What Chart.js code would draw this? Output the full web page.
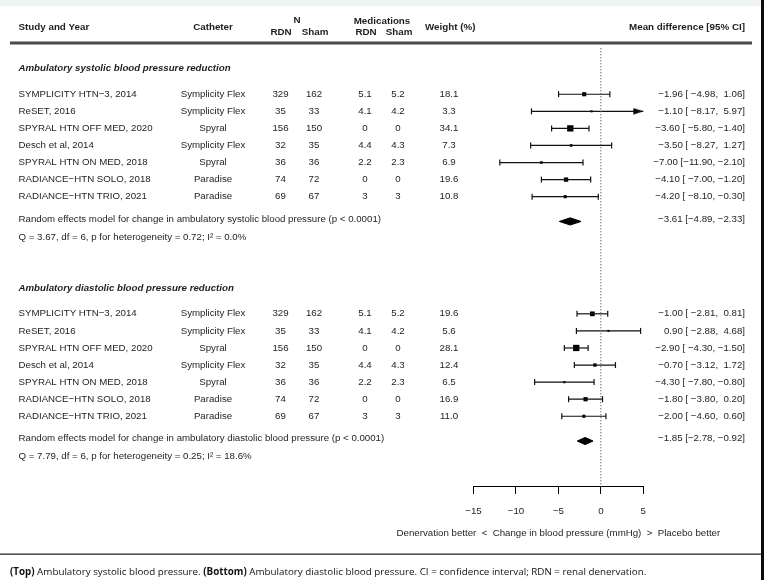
<!DOCTYPE html>
<html><head><meta charset="utf-8">
<script src="https://cdn.jsdelivr.net/npm/chart.js@4.4.1/dist/chart.umd.min.js"></script>
<style>html,body{margin:0;padding:0;background:#fff;}canvas{display:block;}</style>
</head><body>
<canvas id="c" width="764" height="580"></canvas>
<script>
// ---------- data ----------
const studies = ['SYMPLICITY HTN\u22123, 2014','ReSET, 2016','SPYRAL HTN OFF MED, 2020','Desch et al, 2014','SPYRAL HTN ON MED, 2018','RADIANCE\u2212HTN SOLO, 2018','RADIANCE\u2212HTN TRIO, 2021'];
const catheters = ['Symplicity Flex','Symplicity Flex','Spyral','Symplicity Flex','Spyral','Paradise','Paradise'];
const nRDN = [329,35,156,32,36,74,69];
const nSham = [162,33,150,35,36,72,67];
const medRDN = ['5.1','4.1','0','4.4','2.2','0','3'];
const medSham = ['5.2','4.2','0','4.3','2.3','0','3'];

const sysWeight = [18.1,3.3,34.1,7.3,6.9,19.6,10.8];
const sysMD = [-1.96,-1.10,-3.60,-3.50,-7.00,-4.10,-4.20];
const sysLo = [-4.98,-8.17,-5.80,-8.27,-11.90,-7.00,-8.10];
const sysHi = [1.06,5.97,-1.40,1.27,-2.10,-1.20,-0.30];
const sysSummary = [-3.61,-4.89,-2.33];

const diaWeight = [19.6,5.6,28.1,12.4,6.5,16.9,11.0];
const diaMD = [-1.00,0.90,-2.90,-0.70,-4.30,-1.80,-2.00];
const diaLo = [-2.81,-2.88,-4.30,-3.12,-7.80,-3.80,-4.60];
const diaHi = [0.81,4.68,-1.50,1.72,-0.80,0.20,0.60];
const diaSummary = [-1.85,-2.78,-0.92];

const xTicks = [-15,-10,-5,0,5];

const sysTitle = 'Ambulatory systolic blood pressure reduction';
const diaTitle = 'Ambulatory diastolic blood pressure reduction';
const sysModel = 'Random effects model for change in ambulatory systolic blood pressure (p < 0.0001)';
const diaModel = 'Random effects model for change in ambulatory diastolic blood pressure (p < 0.0001)';
const sysHet = 'Q = 3.67, df = 6, p for heterogeneity = 0.72; I\u00B2 = 0.0%';
const diaHet = 'Q = 7.79, df = 6, p for heterogeneity = 0.25; I\u00B2 = 18.6%';
const axisTitle = 'Denervation better  <  Change in blood pressure (mmHg)  >  Placebo better';

// ---------- layout / style ----------
const X_MIN = xTicks[0], X_MAX = xTicks[xTicks.length-1];
const FONT = "'Liberation Sans', Arial, sans-serif";
const TXT = '#1e1e1e';
const SYS_OFF = 0, DIA_OFF = 12.86;
const MINUS = '\u2212';
function fmt(v, d){ return (v < 0 ? MINUS : '') + Math.abs(v).toFixed(d); }
function padL(s, n){ while (s.length < n) s = ' ' + s; return s; }

// arrow head image (tip at image centre)
const arrowImg = document.createElement('canvas');
arrowImg.width = 22; arrowImg.height = 7;
(function(){ const g = arrowImg.getContext('2d'); g.fillStyle = '#000'; g.beginPath(); g.moveTo(11,3.5); g.lineTo(1,0.3); g.lineTo(1,6.7); g.closePath(); g.fill(); })();

const datasets = [];
// zero reference line
datasets.push({data:[{x:0,y:-1.7},{x:0,y:24}], showLine:true, borderColor:'#555', borderWidth:1, borderDash:[1.2,1.8], pointRadius:0, clip:false});

function buildPanel(md, lo, hi, w, summ, off){
  const wmin = Math.min(...w), wmax = Math.max(...w);
  md.forEach((m, i) => {
    const y = off + i + 1;
    const a = Math.max(lo[i], X_MIN), b = Math.min(hi[i], X_MAX);
    datasets.push({data:[{x:a,y},{x:b,y}], showLine:true, borderColor:'#111', borderWidth:1.2,
      pointStyle:'line', pointRotation:90, pointRadius:[lo[i] < X_MIN ? 0 : 3, hi[i] > X_MAX ? 0 : 3],
      pointBorderColor:'#111', pointBorderWidth:1.2, clip:false});
    if (hi[i] > X_MAX) datasets.push({data:[{x:X_MAX,y}], pointStyle:arrowImg, pointRadius:5, clip:false});
  });
  datasets.push({data: md.map((m, i) => ({x:m, y:off + i + 1})), pointStyle:'rect',
    pointRadius: w.map(v => 4.2 * (0.5 + (v - wmin) / (wmax - wmin)) / Math.SQRT2),
    pointBackgroundColor:'#000', pointBorderColor:'#000', pointBorderWidth:0, clip:false});
  const ys = off + 8.45, h = 0.21;
  datasets.push({data:[{x:summ[1],y:ys},{x:summ[0],y:ys-h},{x:summ[2],y:ys},{x:summ[0],y:ys+h},{x:summ[1],y:ys}],
    showLine:true, fill:'shape', backgroundColor:'#000', borderColor:'#000', borderWidth:1, pointRadius:0, clip:false});
}
buildPanel(sysMD, sysLo, sysHi, sysWeight, sysSummary, SYS_OFF);
buildPanel(diaMD, diaLo, diaHi, diaWeight, diaSummary, DIA_OFF);

function ciText(m, lo, hi, padded){
  if (!padded) return fmt(m,2) + ' [' + fmt(lo,2) + ', ' + fmt(hi,2) + ']';
  return padL(fmt(m,2),5) + ' [' + padL(fmt(lo,2),6) + ', ' + padL(fmt(hi,2),5) + ']';
}

const tablePlugin = {
  id:'table',
  afterDraw(chart){
    const ctx = chart.ctx, ys = chart.scales.y, xs = chart.scales.x;
    const Y = v => ys.getPixelForValue(v);
    ctx.save();
    // top band & right bar
    ctx.fillStyle = '#eef3f3'; ctx.fillRect(0,0,764,6);
    ctx.fillStyle = '#0a0a0a'; ctx.fillRect(761,0,3,580);
    // header
    ctx.fillStyle = TXT; ctx.textBaseline = 'middle';
    ctx.font = 'bold 9.8px ' + FONT;
    const t = (s, x, y, al) => { ctx.textAlign = al || 'left'; ctx.fillText(s, x, y); };
    t('Study and Year', 18.5, 27);
    t('Catheter', 213, 27, 'center');
    t('N', 297, 20, 'center'); t('RDN', 281, 32, 'center'); t('Sham', 315, 32, 'center');
    t('Medications', 382, 21, 'center'); t('RDN', 366, 32, 'center'); t('Sham', 399, 32, 'center');
    t('Weight (%)', 425, 27);
    t('Mean difference [95% CI]', 745, 27, 'right');
    // header rule
    ctx.fillStyle = '#4a4a4a'; ctx.fillRect(10, Y(-2) - 1.5, 742, 3);
    // panels
    const panel = (title, off, w, md, lo, hi, summ, model, het) => {
      ctx.fillStyle = TXT;
      ctx.font = 'italic bold 9.7px ' + FONT;
      t(title, 18.5, Y(off - 0.52));
      ctx.font = '9.7px ' + FONT;
      studies.forEach((s, i) => {
        const y = Y(off + i + 1);
        t(s, 18.5, y);
        t(catheters[i], 213, y, 'center');
        t(String(nRDN[i]), 280.5, y, 'center');
        t(String(nSham[i]), 314, y, 'center');
        t(medRDN[i], 365, y, 'center');
        t(medSham[i], 398, y, 'center');
        t(w[i].toFixed(1), 449, y, 'center');
        t(ciText(md[i], lo[i], hi[i], true), 745, y, 'right');
      });
      t(model, 18.5, Y(off + 8.3));
      t(ciText(summ[0], summ[1], summ[2], false), 745, Y(off + 8.3), 'right');
      t(het, 18.5, Y(off + 9.37));
    };
    panel(sysTitle, SYS_OFF, sysWeight, sysMD, sysLo, sysHi, sysSummary, sysModel, sysHet);
    panel(diaTitle, DIA_OFF, diaWeight, diaMD, diaLo, diaHi, diaSummary, diaModel, diaHet);
    // axis title
    ctx.font = '9.7px ' + FONT; ctx.fillStyle = TXT;
    t(axisTitle, (xs.left + xs.right) / 2, xs.top + 46, 'center');
    // bottom rule + caption
    ctx.fillStyle = '#2a2a2a'; ctx.fillRect(0, 553.5, 761, 1.3);
    ctx.fillStyle = '#111';
    const cf = "'Open Sans', 'Noto Sans', sans-serif";
    let x = 10; const cy = 572;
    const parts = [['(Top)', true],[' Ambulatory systolic blood pressure. ', false],['(Bottom)', true],[' Ambulatory diastolic blood pressure. CI = confidence interval; RDN = renal denervation.', false]];
    ctx.textAlign = 'left';
    parts.forEach(([s, b]) => { ctx.font = (b ? 'bold ' : '') + '9.8px ' + cf; ctx.fillText(s, x, cy); x += ctx.measureText(s).width; });
    ctx.restore();
  }
};

new Chart(document.getElementById('c'), {
  type:'scatter',
  data:{datasets},
  options:{
    responsive:false, animation:false, events:[],
    layout:{padding:{left:473.5, right:120.7, top:43, bottom:50.4}},
    plugins:{legend:{display:false}, tooltip:{enabled:false}},
    scales:{
      x:{type:'linear', min:X_MIN, max:X_MAX, position:'bottom',
        afterBuildTicks: s => { s.ticks = xTicks.map(v => ({value:v})); },
        border:{display:true, color:'#000', width:1},
        grid:{display:true, drawOnChartArea:false, drawTicks:true, tickLength:7, color:'#000', lineWidth:1},
        ticks:{padding:12, color:TXT, font:{family:FONT, size:9.7}, maxRotation:0, autoSkip:false, callback: v => fmt(v,0)},
        title:{display:false}
      },
      y:{type:'linear', display:false, min:-2, max:24, reverse:true}
    }
  },
  plugins:[tablePlugin]
});
</script>
</body></html>
